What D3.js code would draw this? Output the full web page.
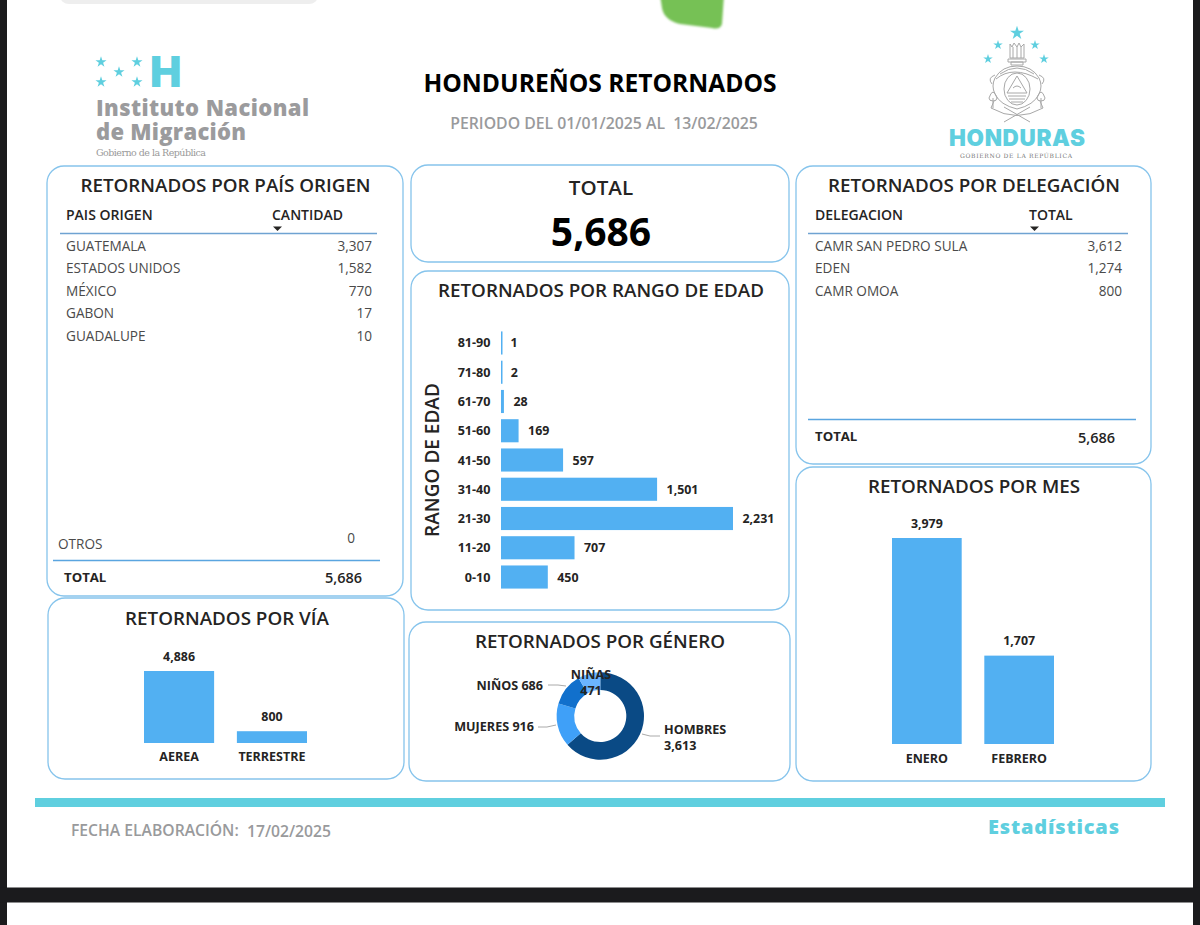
<!DOCTYPE html>
<html><head><meta charset="utf-8">
<script src="https://cdn.jsdelivr.net/npm/d3@7/dist/d3.min.js"></script>
<style>html,body{margin:0;padding:0;background:#fff}svg{display:block}text{font-family:"Open Sans",sans-serif}</style>
</head><body><svg id="c" width="1200" height="925"></svg>
<script>
const paisNames=["GUATEMALA","ESTADOS UNIDOS","MÉXICO","GABON","GUADALUPE"];
const paisValues=[3307,1582,770,17,10];
const delegNames=["CAMR SAN PEDRO SULA","EDEN","CAMR OMOA"];
const delegValues=[3612,1274,800];
const edadLabels=["81-90","71-80","61-70","51-60","41-50","31-40","21-30","11-20","0-10"];
const edadValues=[1,2,28,169,597,1501,2231,707,450];
const viaLabels=["AEREA","TERRESTRE"];
const viaValues=[4886,800];
const mesLabels=["ENERO","FEBRERO"];
const mesValues=[3979,1707];
const generoLabels=["HOMBRES","MUJERES","NIÑOS","NIÑAS"];
const generoValues=[3613,916,686,471];
const generoColors=["#0a4a85","#3fa0f8","#1170cc","#6bb5ff"];
const total=5686;
const BLUE="#52b0f2",TEAL="#5fcfdf",DARK="#252423",GRAY="#999a9c",ROW="#4a4a4a";
const fmt=d3.format(",");
const svg=d3.select("#c");
const T=(x,y,s,size,o={})=>svg.append("text").attr("x",x).attr("y",y).text(s).attr("font-size",size)
  .attr("font-weight",o.w||400).attr("fill",o.c||DARK).attr("text-anchor",o.a||"start");

// page frame
svg.append("rect").attr("width",1200).attr("height",925).attr("fill","#fff");
svg.append("rect").attr("width",7).attr("height",925).attr("fill","#1b1b1d");
svg.append("rect").attr("x",1193).attr("width",7).attr("height",925).attr("fill","#1b1b1d");
svg.append("rect").attr("y",887.5).attr("width",1200).attr("height",15).attr("fill","#1b1b1d");
svg.append("rect").attr("x",60).attr("y",-12).attr("width",258).attr("height",16).attr("rx",9).attr("fill","#eeeeee");
svg.append("defs").html('<filter id="bl"><feGaussianBlur stdDeviation="1.2"/></filter>');
svg.append("path").attr("d","M660 -5L724 -5L722 24Q720 30 712 28L680 24Q664 20 662 8Z").attr("fill","#76c154").attr("filter","url(#bl)");

// panels
[[47,166,356,430],[411,165,378,97],[411,271,378,339],[796,166,355,298],[796,467,355,314],[48,598,356,181],[409,622,381,159]]
.forEach(([x,y,w,h])=>svg.append("rect").attr("x",x).attr("y",y).attr("width",w).attr("height",h).attr("rx",17)
  .attr("fill","#fff").attr("stroke","#86c4ec").attr("stroke-width",1.3));

// header
T(600,92,"HONDUREÑOS RETORNADOS",24.6,{w:700,c:"#000",a:"middle"});
T(604,129,"PERIODO DEL 01/01/2025 AL  13/02/2025",15.8,{w:600,c:GRAY,a:"middle"}).style("white-space","pre");

// star helper
const star=d3.symbol().type(d3.symbolStar);
const S=(x,y,a,c=TEAL)=>svg.append("path").attr("transform",`translate(${x},${y})`).attr("d",star.size(a)()).attr("fill",c);
// INM logo
[[101,62],[137,62],[119,72],[101,82],[137,82]].forEach(p=>S(p[0],p[1],38));
T(150,87,"H",42,{w:900,c:TEAL}).style("font-family","Inter");
const inm=svg.append("text").attr("font-size",22).attr("font-weight",800).attr("fill","#9b9b9d").style("font-family","Open Sans");
inm.append("tspan").attr("x",96).attr("y",116).attr("textLength",213).text("Instituto Nacional");
inm.append("tspan").attr("x",96).attr("y",140).attr("textLength",150).text("de Migración");
T(96,156,"Gobierno de la República",9.5,{c:"#999"}).style("font-family","DejaVu Serif").attr("textLength",110);
// Honduras logo
S(1017,33,60);[[998,45],[1035,45],[988,59],[1044,59]].forEach(p=>S(p[0],p[1],28));
const g=svg.append("g").attr("fill","none").attr("stroke","#a8a8a8").attr("stroke-width",1);
g.append("path").attr("d","M1010 44v14h14v-14l-3 3-2-4-2 4-3-4-2 4z M1013 47v11 M1017 47v11 M1021 47v11 M1008 59h18v3h-18z M1011 62h12v3h-12z");
g.append("path").attr("d","M1017 66q-15 0-22 12q-4 8 0 16q5 11 22 15q17-4 22-15q4-8 0-16q-7-12-22-12z");
g.append("ellipse").attr("cx",1017).attr("cy",89).attr("rx",13).attr("ry",16);
g.append("path").attr("d","M1017 76l10 17h-20z M1008 96h18 M1009 99h16 M1011 102h12 M1013 88q4-4 8 0 M1000 74q17-12 34 0 M996 79q17-14 42 0 M992 84q-5-6 3-9 M1042 84q5-6-3-9");
g.append("path").attr("d","M993 108v-10 M1041 108v-10 M989 98q4-12 8 0q0 3-4 3t-4-3z M1037 98q4-12 8 0q0 3-4 3t-4-3z M991 108q26 15 52 0l-3-7 M994 101l-3 7 M1004 122l26-15 M1030 122l-26-15");
T(1017,146,"HONDURAS",22.5,{w:900,c:TEAL,a:"middle"}).style("font-family","Inter").attr("textLength",136);
T(1016,158,"GOBIERNO DE LA REPÚBLICA",6,{c:"#777",a:"middle"}).style("font-family","DejaVu Serif").attr("textLength",112);

// panel titles
[[225.5,192,"RETORNADOS POR PAÍS ORIGEN"],[974,192,"RETORNADOS POR DELEGACIÓN"],[601,296.5,"RETORNADOS POR RANGO DE EDAD"],
 [974,493,"RETORNADOS POR MES"],[227,625,"RETORNADOS POR VÍA"],[600,648,"RETORNADOS POR GÉNERO"]]
.forEach(d=>T(d[0],d[1],d[2],18.8,{w:600,a:"middle"}));
T(601,195,"TOTAL",20.6,{w:600,a:"middle"});
T(601,245.5,fmt(total),39,{w:700,c:"#000",a:"middle"});

// tables
function table(xL,xR,rule,h1,h2,xH2,names,vals,yScale){
  T(xL,220,h1,14,{w:600});T(xH2,220,h2,14,{w:600});
  svg.append("line").attr("x1",rule[0]).attr("x2",rule[1]).attr("y1",233.5).attr("y2",233.5).attr("stroke","#6fa3d2").attr("stroke-width",1.4);
  svg.append("path").attr("d",`M${xH2+1} 226.5h9l-4.5 4.5z`).attr("fill","#252423");
  names.forEach((n,i)=>{T(xL,yScale(i)+5,n,13.6,{c:ROW});T(xR,yScale(i)+5,fmt(vals[i]),13.6,{c:ROW,a:"end"});});
}
const rowY=d3.scaleLinear().domain([0,1]).range([246,268.4]);
table(66,372,[60,377],"PAIS ORIGEN","CANTIDAD",272,paisNames,paisValues,rowY);
table(815,1122,[808,1128],"DELEGACION","TOTAL",1029,delegNames,delegValues,rowY);
T(58,549,"OTROS",13.6,{c:ROW});T(355,543,"0",13.6,{c:ROW,a:"end"});
svg.append("line").attr("x1",53).attr("x2",380).attr("y1",560.5).attr("y2",560.5).attr("stroke","#5aa5e0").attr("stroke-width",1.5);
T(64,582,"TOTAL",13.2,{w:700});T(362,583,fmt(total),14.5,{w:600,a:"end"});
svg.append("line").attr("x1",808).attr("x2",1136).attr("y1",419.5).attr("y2",419.5).attr("stroke","#5aa5e0").attr("stroke-width",1.5);
T(815,441,"TOTAL",13.2,{w:700});T(1115,443,fmt(total),14.5,{w:600,a:"end"});

// edad bars
const xE=d3.scaleLinear().domain([0,2231]).range([501,733]);
const yE=d3.scaleBand().domain(edadLabels).range([328.5,591.5]).paddingInner(0.21).paddingOuter(0.1);
svg.selectAll(".e").data(edadValues).join("rect").attr("x",xE(0)).attr("y",(d,i)=>yE(edadLabels[i]))
 .attr("width",d=>Math.max(1.5,xE(d)-xE(0))).attr("height",yE.bandwidth()).attr("fill",BLUE);
edadLabels.forEach((l,i)=>{const y=yE(l)+yE.bandwidth()/2+4.5;
 T(490.5,y,l,12.6,{w:700,a:"end"});T(Math.max(xE(edadValues[i]),xE(0))+9.5,y,fmt(edadValues[i]),12.4,{w:700});});
svg.append("text").attr("transform","translate(439,460) rotate(-90)").attr("text-anchor","middle").attr("font-size",19)
 .attr("font-weight",600).attr("fill",DARK).text("RANGO DE EDAD");

// vertical bars
function vbars(labels,vals,x0,x1,y0,y1,dmax,labY){
 const x=d3.scaleBand().domain(labels).range([x0,x1]).paddingInner(0.245).paddingOuter(0);
 const y=d3.scaleLinear().domain([0,dmax]).range([y0,y1]);
 labels.forEach((l,i)=>{
  svg.append("rect").attr("x",x(l)).attr("y",y(vals[i])).attr("width",x.bandwidth()).attr("height",y0-y(vals[i])).attr("fill",BLUE);
  T(x(l)+x.bandwidth()/2,y(vals[i])-10.5,fmt(vals[i]),12.4,{w:700,a:"middle"});
  T(x(l)+x.bandwidth()/2,labY,l,12.5,{w:700,a:"middle"});
 });
}
vbars(viaLabels,viaValues,144,307,743,671,4886,760.5);
vbars(mesLabels,mesValues,892,1054,744,538,3979,762.5);

// donut
const pie=d3.pie().sort(null).value(d=>d);
const arc=d3.arc().innerRadius(26).outerRadius(43.7);
svg.append("g").attr("transform","translate(600.3,716)").selectAll("path").data(pie(generoValues)).join("path")
 .attr("d",arc).attr("fill",(d,i)=>generoColors[i]);
const lead=[[[642,734],[650,736],[660,736]],[[556,725],[547,727],[538,727]],[[566,686],[558,685],[548,685]]];
lead.forEach(p=>svg.append("path").attr("d",d3.line()(p)).attr("fill","none").attr("stroke","#aaa"));
T(664,734,generoLabels[0],12.6,{w:700});T(664,750,fmt(generoValues[0]),12.6,{w:700});
T(534,731,`${generoLabels[1]} ${generoValues[1]}`,12.6,{w:700,a:"end"});
T(543,690,`${generoLabels[2]} ${generoValues[2]}`,12.6,{w:700,a:"end"});
T(591,679,generoLabels[3],12.6,{w:700,a:"middle"});T(591,695,generoValues[3],12.6,{w:700,a:"middle"});

// footer
svg.append("rect").attr("x",35).attr("y",798).attr("width",1130).attr("height",9).attr("fill",TEAL);
T(71,836,"FECHA ELABORACIÓN:",15.7,{w:600,c:GRAY});
T(247,837,"17/02/2025",15.7,{w:600,c:GRAY});
T(988,834,"Estadísticas",20,{w:800,c:TEAL}).attr("textLength",131);
</script></body></html>
